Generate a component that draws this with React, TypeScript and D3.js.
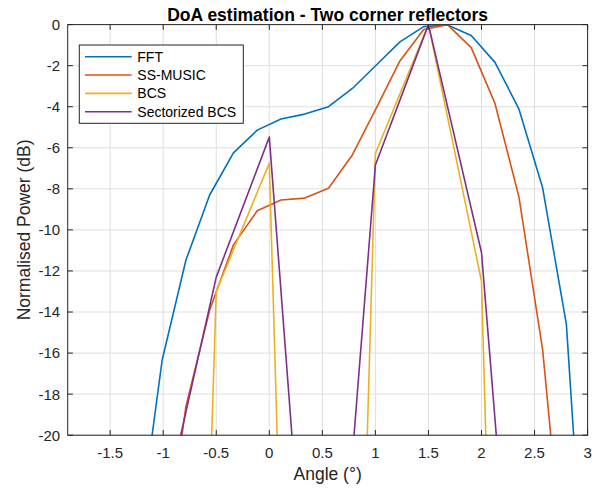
import React from "react";
import * as d3 from "d3";

// Angle grid shared by FFT and SS-MUSIC (degrees)
const fftAngles = [-1.234, -1.01, -0.786, -0.562, -0.338, -0.114, 0.11, 0.334, 0.558, 0.783, 1.007, 1.231, 1.455, 1.679, 1.903, 2.127, 2.352, 2.576, 2.8, 3.024];
const fftPower = [-25, -16.35, -11.48, -8.3, -6.25, -5.14, -4.6, -4.36, -4.0, -3.11, -1.98, -0.84, -0.1, -0.02, -0.53, -1.84, -4.1, -7.95, -14.6, -32.3];

const musicAngles = [-1.01, -0.786, -0.562, -0.338, -0.114, 0.11, 0.334, 0.558, 0.783, 1.007, 1.231, 1.455, 1.679, 1.903, 2.127, 2.352, 2.576, 2.8];
const musicPower = [-27, -18.6, -13.9, -10.73, -9.07, -8.54, -8.45, -7.97, -6.35, -4.08, -1.77, -0.24, 0, -1.12, -3.84, -8.37, -15.83, -28];

// Coarse grid for BCS methods
const bcsAngles = [-1, -0.5, 0, 0.5, 1, 1.5, 2, 2.5];
const bcsPower = [-95, -13.0, -6.75, -96, -6.28, 0, -12.5, -105];
const sbcsPower = [-23.8, -12.3, -5.48, -39.5, -6.84, 0, -11.1, -43];

const seriesNames = ["FFT", "SS-MUSIC", "BCS", "Sectorized BCS"];
const seriesColors = ["#0072BD", "#D95319", "#EDB120", "#7E2F8E"];

const xTicks = [-1.5, -1, -0.5, 0, 0.5, 1, 1.5, 2, 2.5, 3];
const yTicks = [0, -2, -4, -6, -8, -10, -12, -14, -16, -18, -20];

const titleText = "DoA estimation - Two corner reflectors";
const xLabel = "Angle (\u00B0)";
const yLabel = "Normalised Power (dB)";

const W = 600;
const H = 489;
const M = { left: 67.7, right: 587.6, top: 24.6, bottom: 435.2 };
const FONT = "'Liberation Sans', Arial, Helvetica, sans-serif";
const AX = "#262626";

export default function App() {
  const x = d3.scaleLinear().domain([-1.9, 3]).range([M.left, M.right]);
  const y = d3.scaleLinear().domain([-20, 0]).range([M.bottom, M.top]);

  const series = [
    { a: fftAngles, p: fftPower },
    { a: musicAngles, p: musicPower },
    { a: bcsAngles, p: bcsPower },
    { a: bcsAngles, p: sbcsPower },
  ];
  const line = d3
    .line<[number, number]>()
    .x((d) => x(d[0]))
    .y((d) => y(d[1]));

  const tl = 5.2;
  const legendX = 79.3;
  const legendY = 45;
  const legendW = 164;
  const legendH = 78.3;
  const legendRow = 18.35;

  return (
    <svg
      width={W}
      height={H}
      viewBox={`0 0 ${W} ${H}`}
      style={{ position: "absolute", left: 0, top: 0, background: "#fff" }}
      fontFamily={FONT}
    >
      <defs>
        <clipPath id="plotClip">
          <rect x={M.left} y={M.top} width={M.right - M.left} height={M.bottom - M.top} />
        </clipPath>
      </defs>
      <rect x={0} y={0} width={W} height={H} fill="#fff" />
      <rect x={M.left} y={M.top} width={M.right - M.left} height={M.bottom - M.top} fill="#fff" />
      {/* grid */}
      <g stroke="#dfdfdf" strokeWidth={1}>
        {xTicks.map((t) => (
          <line key={"gx" + t} x1={x(t)} x2={x(t)} y1={M.top} y2={M.bottom} />
        ))}
        {yTicks.map((t) => (
          <line key={"gy" + t} x1={M.left} x2={M.right} y1={y(t)} y2={y(t)} />
        ))}
      </g>
      {/* series */}
      <g clipPath="url(#plotClip)" fill="none" strokeWidth={1.6} strokeLinejoin="round">
        {series.map((s, i) => (
          <path
            key={seriesNames[i]}
            d={line(s.a.map((a, j) => [a, s.p[j]] as [number, number])) || ""}
            stroke={seriesColors[i]}
          />
        ))}
      </g>
      {/* ticks */}
      <g stroke={AX} strokeWidth={1}>
        {xTicks.map((t) => (
          <g key={"tx" + t}>
            <line x1={x(t)} x2={x(t)} y1={M.bottom} y2={M.bottom - tl} />
            <line x1={x(t)} x2={x(t)} y1={M.top} y2={M.top + tl} />
          </g>
        ))}
        {yTicks.map((t) => (
          <g key={"ty" + t}>
            <line x1={M.left} x2={M.left + tl} y1={y(t)} y2={y(t)} />
            <line x1={M.right} x2={M.right - tl} y1={y(t)} y2={y(t)} />
          </g>
        ))}
      </g>
      {/* box */}
      <rect
        x={M.left}
        y={M.top}
        width={M.right - M.left}
        height={M.bottom - M.top}
        fill="none"
        stroke={AX}
        strokeWidth={1}
      />
      {/* tick labels */}
      <g fill={AX} fontSize={15}>
        {xTicks.map((t) => (
          <text key={"lx" + t} x={x(t)} y={M.bottom + 23.2} textAnchor="middle">
            {String(t)}
          </text>
        ))}
        {yTicks.map((t) => (
          <text key={"ly" + t} x={M.left - 7.5} y={y(t)} dy="0.36em" textAnchor="end">
            {String(t)}
          </text>
        ))}
      </g>
      {/* axis labels */}
      <text x={(M.left + M.right) / 2} y={480} textAnchor="middle" fontSize={17.5} fill={AX}>
        {xLabel}
      </text>
      <text
        transform={`translate(29.5, ${(M.top + M.bottom) / 2}) rotate(-90)`}
        textAnchor="middle"
        fontSize={17.5}
        fill={AX}
      >
        {yLabel}
      </text>
      {/* title */}
      <text
        x={(M.left + M.right) / 2}
        y={20.5}
        textAnchor="middle"
        fontSize={17.5}
        fontWeight="bold"
        fill="#000"
      >
        {titleText}
      </text>
      {/* legend */}
      <g>
        <rect x={legendX} y={legendY} width={legendW} height={legendH} fill="#fff" stroke={AX} strokeWidth={1} />
        {seriesNames.map((n, i) => {
          const ly = legendY + 11.7 + i * legendRow;
          return (
            <g key={"lg" + n}>
              <line x1={85} x2={131.7} y1={ly} y2={ly} stroke={seriesColors[i]} strokeWidth={1.6} />
              <text x={137.3} y={ly} dy="0.36em" fontSize={14} fill="#000">
                {n}
              </text>
            </g>
          );
        })}
      </g>
    </svg>
  );
}
